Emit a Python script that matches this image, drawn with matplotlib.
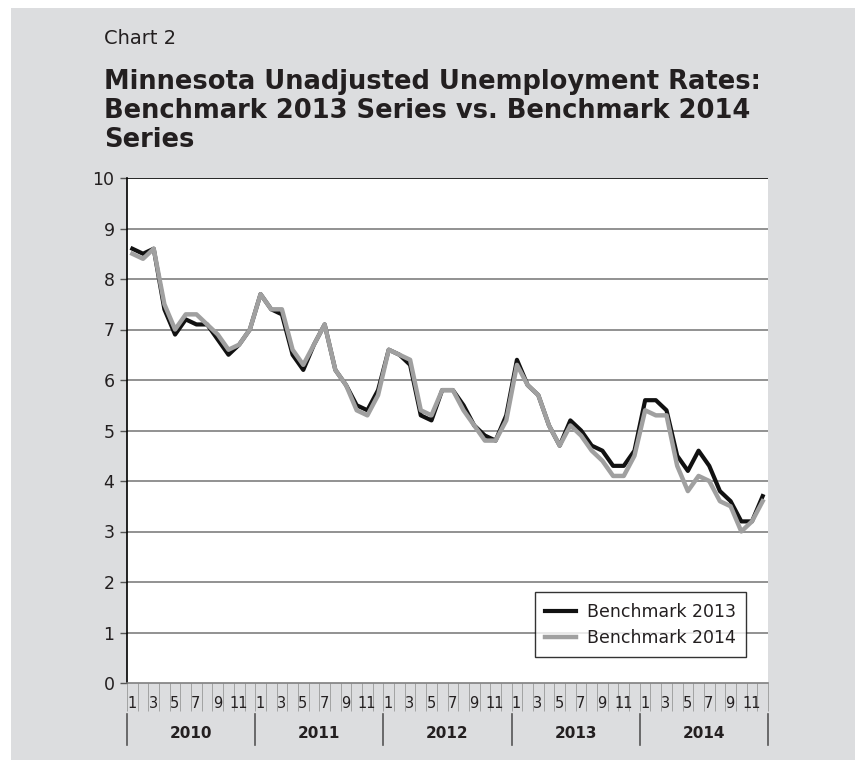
import matplotlib
matplotlib.use("Agg")
import matplotlib.pyplot as plt
from matplotlib.patches import Rectangle
from matplotlib.lines import Line2D
import matplotlib.transforms as mtransforms

years = ["2010", "2011", "2012", "2013", "2014"]
month_labels = ["1", "", "3", "", "5", "", "7", "", "9", "", "11", ""]

bench_2013 = [8.6, 8.5, 8.6, 7.4, 6.9, 7.2, 7.1, 7.1, 6.8, 6.5, 6.7, 7.0,
              7.7, 7.4, 7.3, 6.5, 6.2, 6.7, 7.1, 6.2, 5.9, 5.5, 5.4, 5.8,
              6.6, 6.5, 6.3, 5.3, 5.2, 5.8, 5.8, 5.5, 5.1, 4.9, 4.8, 5.3,
              6.4, 5.9, 5.7, 5.1, 4.7, 5.2, 5.0, 4.7, 4.6, 4.3, 4.3, 4.6,
              5.6, 5.6, 5.4, 4.5, 4.2, 4.6, 4.3, 3.8, 3.6, 3.2, 3.2, 3.7]
bench_2014 = [8.5, 8.4, 8.6, 7.5, 7.0, 7.3, 7.3, 7.1, 6.9, 6.6, 6.7, 7.0,
              7.7, 7.4, 7.4, 6.6, 6.3, 6.7, 7.1, 6.2, 5.9, 5.4, 5.3, 5.7,
              6.6, 6.5, 6.4, 5.4, 5.3, 5.8, 5.8, 5.4, 5.1, 4.8, 4.8, 5.2,
              6.3, 5.9, 5.7, 5.1, 4.7, 5.1, 4.9, 4.6, 4.4, 4.1, 4.1, 4.5,
              5.4, 5.3, 5.3, 4.3, 3.8, 4.1, 4.0, 3.6, 3.5, 3.0, 3.2, 3.6]
series_names = ["Benchmark 2013", "Benchmark 2014"]
y_ticks = list(range(0, 11))

BG = "#dcdddf"
W, H = 855, 760
fig = plt.figure(figsize=(W / 100, H / 100), dpi=100)
fig.patch.set_facecolor("white")
fig.patches.append(Rectangle((11 / W, 0), 1, 1 - 8 / H, transform=fig.transFigure,
                             facecolor=BG, edgecolor="none", zorder=-10))

fig.text(104 / W, 1 - 38 / H, "Chart 2", fontsize=14, color="#231f20",
         family="DejaVu Sans", va="center", ha="left")
fig.text(104 / W, 1 - 111 / H,
         "Minnesota Unadjusted Unemployment Rates:\nBenchmark 2013 Series vs. Benchmark 2014\nSeries",
         fontsize=18.5, fontweight="bold", color="#231f20", family="DejaVu Sans",
         va="center", ha="left", linespacing=1.15)

left, right, top, bottom = 127, 768, 178, 683
ax = fig.add_axes([left / W, 1 - bottom / H, (right - left) / W, (bottom - top) / H])
ax.set_facecolor("white")

n = len(bench_2013)
x = [i + 0.5 for i in range(n)]
ax.plot(x, bench_2013, color="#111111", lw=3, label=series_names[0], zorder=3)
ax.plot(x, bench_2014, color="#a0a0a0", lw=3.2, label=series_names[1], zorder=4)

ax.set_xlim(0, n)
ax.set_ylim(0, 10)
ax.set_yticks(y_ticks)
ax.set_yticklabels([str(v) for v in y_ticks], fontsize=12.5, color="#231f20")
for v in y_ticks[1:]:
    ax.axhline(v, color="#000000" if v == 10 else "#7f7f7f", lw=1.2, zorder=1)

for s in ["top", "right"]:
    ax.spines[s].set_visible(False)
ax.spines["left"].set_color("#000000")
ax.spines["left"].set_linewidth(1.2)
ax.spines["bottom"].set_color("#7f7f7f")
ax.spines["bottom"].set_linewidth(1.2)
ax.tick_params(axis="y", length=5, width=1, color="#555555", pad=4)

# x axis: minor category ticks
ax.set_xticks(range(0, n + 1))
ax.set_xticklabels([])
ax.tick_params(axis="x", length=20, width=0.6, color="#999999", direction="out")

trans = mtransforms.blended_transform_factory(ax.transData, ax.transAxes)
ph = bottom - top
for i in range(n):
    lab = month_labels[i % 12]
    if lab:
        ax.text(i + 0.45, -21 / ph, lab, transform=trans, fontsize=10.5,
                ha="center", va="center", color="#231f20")
for k, yr in enumerate(years):
    ax.add_line(Line2D([12 * k, 12 * k], [-31 / ph, -62 / ph], transform=trans,
                       color="#555555", lw=1.2, clip_on=False))
    ax.text(12 * k + 6, -50 / ph, yr, transform=trans, fontsize=11,
            fontweight="bold", ha="center", va="center", color="#231f20")
ax.add_line(Line2D([n, n], [-31 / ph, -62 / ph], transform=trans,
                   color="#555555", lw=1.2, clip_on=False))

leg = ax.legend(loc="lower right", bbox_to_anchor=(1 - 22 / (right - left), 26 / ph),
                borderaxespad=0,
                fontsize=12.5, frameon=True, fancybox=False, borderpad=0.6,
                handlelength=1.8, handletextpad=0.6, labelspacing=0.45)
leg.get_frame().set_edgecolor("#000000")
leg.get_frame().set_linewidth(1)
for t in leg.get_texts():
    t.set_color("#231f20")

fig.savefig("out.png", dpi=100, facecolor=fig.get_facecolor())
